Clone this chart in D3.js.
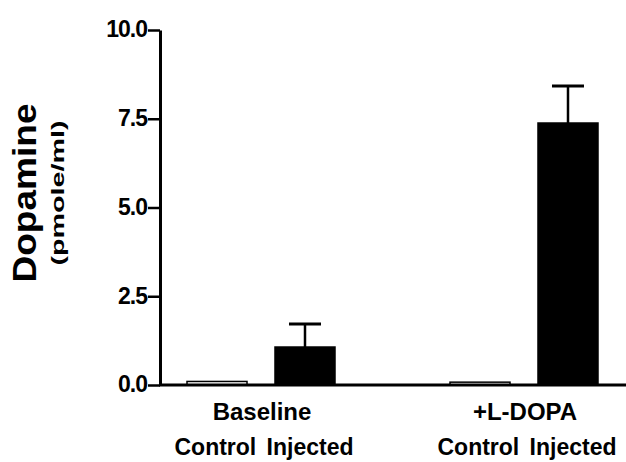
<!DOCTYPE html>
<html>
<head>
<meta charset="utf-8">
<script src="https://cdn.jsdelivr.net/npm/d3@7"></script>
<style>
  body { margin: 0; background: #fff; }
  text { font-family: "Liberation Sans", Arial, Helvetica, sans-serif; font-weight: bold; fill: #000; }
</style>
</head>
<body>
<svg id="chart" width="626" height="462"></svg>
<script>
var groups = ["Baseline", "+L-DOPA"]
var conditions = ["Control", "Injected"]
var means = [[0.1, 1.07], [0.08, 7.38]]
var errors = [[0, 0.65], [0, 1.04]]
var yTicks = [0, 2.5, 5, 7.5, 10]

var svg = d3.select("#chart")

var y = d3.scaleLinear().domain([0, 10]).range([385, 30])
var x0 = d3.scalePoint().domain(groups).range([261, 524])
var x1 = d3.scaleBand().domain(conditions).range([-74, 74]).paddingInner(0.318).paddingOuter(0)

var rows = []
groups.forEach(function (g, i) {
  conditions.forEach(function (c, j) {
    rows.push({group: g, cond: c, v: means[i][j], e: errors[i][j]})
  })
})

// bars
svg.selectAll("rect.bar")
  .data(rows)
  .enter().append("rect")
  .attr("class", "bar")
  .attr("x", d => x0(d.group) + x1(d.cond))
  .attr("width", x1.bandwidth())
  .attr("y", d => y(d.v))
  .attr("height", d => y(0) - y(d.v))
  .style("fill", d => d.cond == "Control" ? "#fff" : "#000")
  .style("stroke", "#000")
  .style("stroke-width", 1.5)

// error bars (injected only)
var eb = rows.filter(d => d.e > 0)
svg.selectAll("line.err")
  .data(eb)
  .enter().append("line")
  .attr("x1", d => x0(d.group) + x1(d.cond) + x1.bandwidth() / 2)
  .attr("x2", d => x0(d.group) + x1(d.cond) + x1.bandwidth() / 2)
  .attr("y1", d => y(d.v))
  .attr("y2", d => y(d.v + d.e))
  .style("stroke", "#000")
  .style("stroke-width", 2.5)
svg.selectAll("line.cap")
  .data(eb)
  .enter().append("line")
  .attr("x1", d => x0(d.group) + x1(d.cond) + x1.bandwidth() / 2 - 16)
  .attr("x2", d => x0(d.group) + x1(d.cond) + x1.bandwidth() / 2 + 16)
  .attr("y1", d => y(d.v + d.e))
  .attr("y2", d => y(d.v + d.e))
  .style("stroke", "#000")
  .style("stroke-width", 3)

// y axis
var yAxis = svg.append("g")
  .attr("transform", "translate(160,0)")
  .call(d3.axisLeft(y).tickValues(yTicks).tickFormat(d3.format(".1f")).tickSize(12).tickSizeOuter(0))
yAxis.select(".domain").style("stroke-width", 3)
yAxis.selectAll(".tick line").style("stroke-width", 2.5)
yAxis.selectAll(".tick text")
  .attr("x", -13)
  .attr("dy", "0.3em")
  .style("font-size", "23px")
  .style("font-family", "'Liberation Sans', Arial, sans-serif")
  .style("font-weight", "bold")
  .style("letter-spacing", "-1px")

// x axis line
svg.append("line")
  .attr("x1", 159).attr("x2", 626)
  .attr("y1", y(0)).attr("y2", y(0))
  .style("stroke", "#000").style("stroke-width", 3)

// group labels
svg.selectAll("text.grp")
  .data(groups)
  .enter().append("text")
  .attr("x", d => x0(d) + 1)
  .attr("y", 420)
  .attr("text-anchor", "middle")
  .style("font-size", "24px")
  .text(d => d)
svg.selectAll("text.sub")
  .data(groups)
  .enter().append("text")
  .attr("x", d => x0(d) + 3)
  .attr("y", 455)
  .attr("text-anchor", "middle")
  .style("font-size", "23px")
  .style("word-spacing", "4px")
  .text("Control Injected")

// y label
svg.append("text")
  .attr("transform", "translate(36,193) rotate(-90)")
  .attr("text-anchor", "middle")
  .attr("textLength", 179)
  .attr("lengthAdjust", "spacingAndGlyphs")
  .style("font-size", "33px")
  .text("Dopamine")
svg.append("text")
  .attr("transform", "translate(64,193) rotate(-90)")
  .attr("text-anchor", "middle")
  .attr("textLength", 145)
  .attr("lengthAdjust", "spacingAndGlyphs")
  .style("font-size", "19px")
  .text("(pmole/ml)")
</script>
</body>
</html>
